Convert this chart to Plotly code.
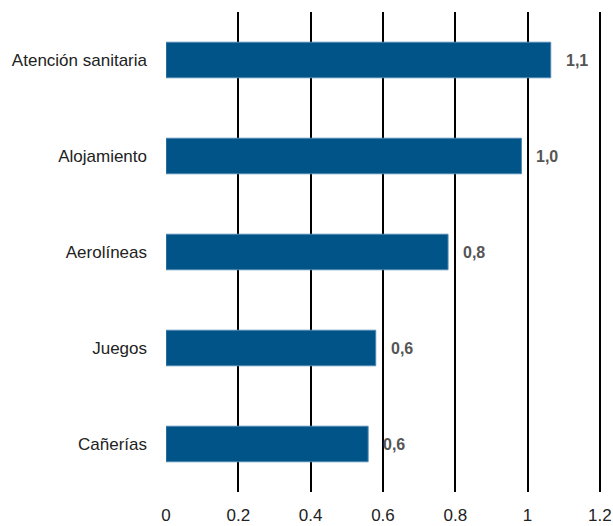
import plotly.graph_objects as go

categories = ["Atención sanitaria", "Alojamiento", "Aerolíneas", "Juegos", "Cañerías"]
values = [1.064, 0.983, 0.780, 0.580, 0.559]
x_ticks = [0, 0.2, 0.4, 0.6, 0.8, 1, 1.2]
x_tick_labels = ["0", "0.2", "0.4", "0.6", "0.8", "1", "1.2"]

labels = [f"{v:.1f}".replace(".", ",") for v in values]
FONT = "Liberation Sans, Arial, sans-serif"

fig = go.Figure()
fig.add_trace(go.Bar(
    y=categories, x=values, orientation="h",
    marker=dict(color="#005487", line=dict(color="#4f86b0", width=1)),
    width=0.37, hoverinfo="skip",
))
for c, v, t in zip(categories, values, labels):
    fig.add_annotation(x=v, y=c, text=f"<b>{t}</b>", showarrow=False,
                       xanchor="left", xshift=13,
                       font=dict(family=FONT, size=16, color="#555555"))

fig.update_layout(
    width=613, height=526,
    margin=dict(l=166, r=12, t=12, b=34),
    plot_bgcolor="white", paper_bgcolor="white",
    showlegend=False, bargap=0.63,
    font=dict(family=FONT, size=17, color="#222222"),
)
fig.update_xaxes(range=[0, 1.203], tickvals=x_ticks, ticktext=x_tick_labels,
                 showgrid=True, gridcolor="black", gridwidth=2,
                 zeroline=False, showline=False, ticks="", ticklabelstandoff=11,
                 automargin=False,
                 tickfont=dict(family=FONT, size=17, color="#222222"))
fig.update_yaxes(categoryorder="array", categoryarray=categories[::-1],
                 showgrid=False, zeroline=False, showline=False, ticks="",
                 ticklabelstandoff=18, automargin=False,
                 tickfont=dict(family=FONT, size=17, color="#222222"))

fig.write_html("out.html", config={"displayModeBar": False},
               post_script="document.body.style.margin='0';document.body.style.overflow='hidden';")
